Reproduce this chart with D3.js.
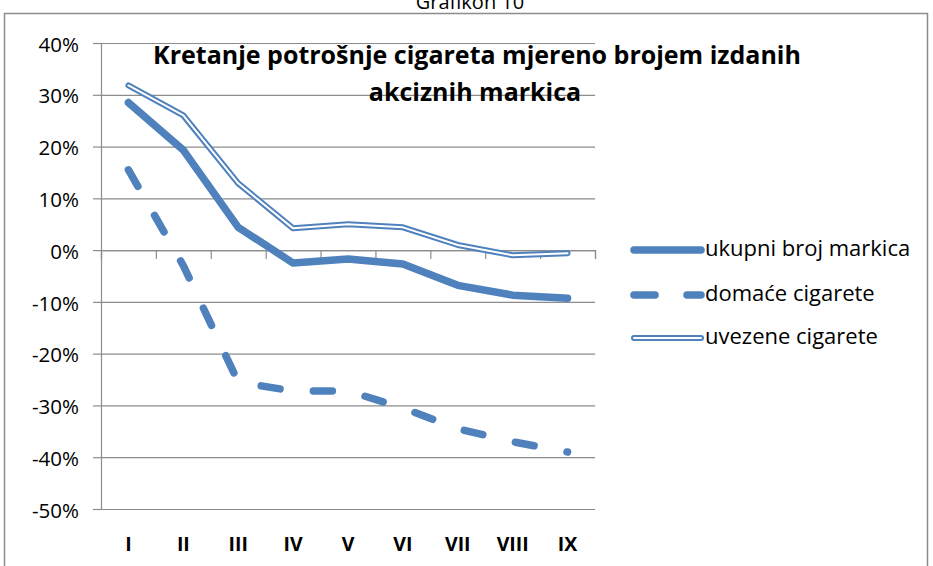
<!DOCTYPE html>
<html>
<head>
<meta charset="utf-8">
<script src="https://cdn.jsdelivr.net/npm/d3@7"></script>
<style>
  body { margin: 0; background: #fff; }
  text { font-family: "Open Sans", sans-serif; fill: #000; }
</style>
</head>
<body>
<svg id="chart" width="933" height="566"></svg>
<script>
// data
var months = ["I", "II", "III", "IV", "V", "VI", "VII", "VIII", "IX"];
var seriesNames = ["ukupni broj markica", "domaće cigarete", "uvezene cigarete"];
var ukupni = [0.285, 0.193, 0.044, -0.025, -0.017, -0.027, -0.068, -0.087, -0.093];
var domace = [0.155, -0.03, -0.255, -0.272, -0.272, -0.305, -0.345, -0.37, -0.39];
var uvezene = [0.318, 0.26, 0.129, 0.042, 0.05, 0.044, 0.01, -0.01, -0.006];
var yTicks = [-0.5, -0.4, -0.3, -0.2, -0.1, 0, 0.1, 0.2, 0.3, 0.4];

var blue = "#4f81bd";
var svg = d3.select("#chart");

// outer frame + caption
svg.append("rect").attr("x", 4.5).attr("y", 13.5).attr("width", 923).attr("height", 570)
  .attr("fill", "none").attr("stroke", "#8c8c8c").attr("stroke-width", 1.5);
svg.append("text").attr("x", 470).attr("y", 9).attr("text-anchor", "middle")
  .style("font-size", "20px").text("Grafikon 10");

var x = d3.scaleBand().domain(months).range([101, 595]);
var xb = d3.scaleLinear().domain([0, months.length]).range([101, 595]);
var y = d3.scaleLinear().domain([-0.5, 0.4]).range([509, 43]);
var px = function(i) { return x(months[i]) + x.bandwidth() / 2; };

// gridlines
var grid = svg.append("g").attr("transform", "translate(101,0)")
  .call(d3.axisLeft(y).tickValues(yTicks).tickSize(-(595 - 101)).tickFormat(""));
grid.select(".domain").remove();
grid.selectAll("line").attr("stroke", "#8c8c8c").attr("stroke-width", 1.2);

// y axis
var yAxis = svg.append("g").attr("transform", "translate(101,0)")
  .call(d3.axisLeft(y).tickValues(yTicks).tickSize(8).tickPadding(14)
    .tickFormat(function(d) { return Math.round(d * 100) + "%"; }));
yAxis.select(".domain").attr("stroke", "#8c8c8c").attr("stroke-width", 1.2);
yAxis.selectAll("line").attr("stroke", "#8c8c8c").attr("stroke-width", 1.2);
yAxis.selectAll("text").style("font-size", "20.5px").attr("fill", "#222").attr("dy", "0.4em");

// x axis on the zero line, ticks at band edges
var xAxis = svg.append("g").attr("transform", "translate(0," + y(0) + ")")
  .call(d3.axisBottom(xb).ticks(months.length).tickSize(9).tickFormat(""));
xAxis.select(".domain").attr("stroke", "#8c8c8c").attr("stroke-width", 1.2);
xAxis.selectAll("line").attr("stroke", "#8c8c8c").attr("stroke-width", 1.2);

// category labels under the plot
var xLab = svg.append("g").attr("transform", "translate(0,509)")
  .call(d3.axisBottom(x).tickSize(0).tickPadding(28));
xLab.select(".domain").remove();
xLab.selectAll("text").style("font-size", "19.5px").style("font-weight", "bold").attr("fill", "#111");

// chart title
var title = svg.append("text").attr("text-anchor", "middle").style("font-size", "25px").style("font-weight", "bold");
title.append("tspan").attr("x", 477).attr("y", 64).text("Kretanje potrošnje cigareta mjereno brojem izdanih");
title.append("tspan").attr("x", 475).attr("y", 101).text("akciznih markica");

var line = d3.line().x(function(d, i) { return px(i); }).y(function(d) { return y(d); });

// uvezene: double line
svg.append("path").datum(uvezene).attr("d", line).attr("fill", "none")
  .attr("stroke", blue).attr("stroke-width", 6).attr("stroke-linejoin", "round").attr("stroke-linecap", "round");
svg.append("path").datum(uvezene).attr("d", line).attr("fill", "none")
  .attr("stroke", "#fff").attr("stroke-width", 2).attr("stroke-linejoin", "round").attr("stroke-linecap", "round");

// ukupni: thick solid
svg.append("path").datum(ukupni).attr("d", line).attr("fill", "none")
  .attr("stroke", blue).attr("stroke-width", 7.5).attr("stroke-linejoin", "round").attr("stroke-linecap", "round");

// domace: dashed
svg.append("path").datum(domace).attr("d", line).attr("fill", "none")
  .attr("stroke", blue).attr("stroke-width", 7.5).attr("stroke-linecap", "round")
  .attr("stroke-dasharray", "19,33.5");

// legend
var leg = svg.append("g");
var legY = [250, 295, 338];
seriesNames.forEach(function(name, i) {
  var g = leg.append("g").attr("transform", "translate(0," + legY[i] + ")");
  if (i === 0) {
    g.append("line").attr("x1", 634).attr("x2", 701).attr("stroke", blue).attr("stroke-width", 7.5).attr("stroke-linecap", "round");
  } else if (i === 1) {
    g.append("line").attr("x1", 634).attr("x2", 701).attr("stroke", blue).attr("stroke-width", 7.5).attr("stroke-linecap", "round")
      .attr("stroke-dasharray", "21,32");
  } else {
    g.append("line").attr("x1", 634).attr("x2", 701).attr("stroke", blue).attr("stroke-width", 6).attr("stroke-linecap", "round");
    g.append("line").attr("x1", 634).attr("x2", 701).attr("stroke", "#fff").attr("stroke-width", 2).attr("stroke-linecap", "round");
  }
  g.append("text").attr("x", 705).attr("y", 6).style("font-size", "22px").attr("fill", "#222").text(name);
});
</script>
</body>
</html>
